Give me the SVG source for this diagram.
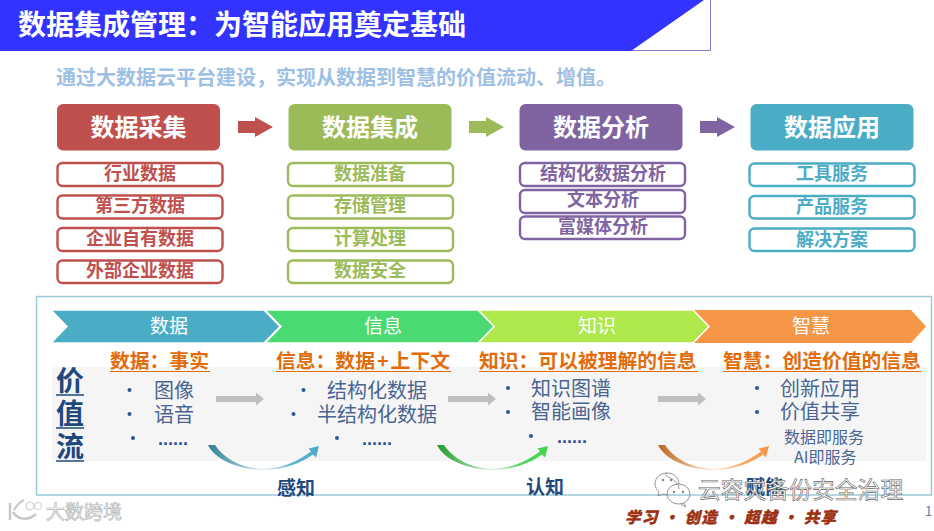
<svg xmlns="http://www.w3.org/2000/svg" width="934" height="531" viewBox="0 0 934 531">
<style>
text{font-family:"Noto Sans CJK SC","Liberation Sans",sans-serif}
.main{fill:#fff;font-weight:700;font-size:24px;text-anchor:middle}
.sub{fill:#fff;stroke-width:2.4}
.st{font-size:18px;font-weight:700;text-anchor:middle}
.hd{fill:#e36c0a;font-size:19.8px;font-weight:700}
.li{fill:#4a6591;font-size:20px}
.dd{fill:#2f5597;font-family:"Liberation Sans",sans-serif;font-size:18px;font-weight:700}
.dot{fill:#2f5597}
.chev{fill:#fff;font-size:19px;text-anchor:middle}
.ga{fill:#bfbfbf}
.v{fill:#1f497d;font-size:28px;font-weight:700;text-anchor:middle}
</style>
<defs>
<linearGradient id="g1"><stop offset="0" stop-color="#2b7f98"/><stop offset="0.5" stop-color="#cfe6ee"/><stop offset="0.75" stop-color="#5fb4cc"/><stop offset="1" stop-color="#4bacc6"/></linearGradient>
<linearGradient id="g2"><stop offset="0" stop-color="#1f9a2c"/><stop offset="0.5" stop-color="#c8f0cc"/><stop offset="0.75" stop-color="#4bd65a"/><stop offset="1" stop-color="#3fd648"/></linearGradient>
<linearGradient id="g3"><stop offset="0" stop-color="#b96a1f"/><stop offset="0.5" stop-color="#fbe0c8"/><stop offset="0.75" stop-color="#f8a968"/><stop offset="1" stop-color="#f79646"/></linearGradient>
<path id="cres" d="M208,445C215,460 240,469.800 263,469.800C285,469.800 303,462 313,454.500L316,457.500L319,446L308.500,448.500L311,451.500C298,461 282,468.800 263,469C245,469 225,460 215,445Z"/>
<path id="ar" d="M0,-3H40V-6.500L48,0L40,6.500V3H0Z"/>
</defs>

<g id="banner">
<path d="M631.500,50.500H710.500V0" fill="none" stroke="#7f7fcf" stroke-width="1"/>
<polygon points="0,0 704,0 631,51 0,51" fill="#3333ff"/>
<text x="18" y="35" fill="#fff" font-size="28" font-weight="700">数据集成管理：为智能应用奠定基础</text>
</g>
<text id="subtitle" x="56" y="85" fill="#9dc0e4" font-size="20" font-weight="700">通过大数据云平台建设，实现从数据到智慧的价值流动、增值。</text>

<g id="connectors">
<path d="M238,121H255V117L273,127L255,137V133H238Z" fill="#c0504d"/>
<path d="M469,121H486V117L504,127L486,137V133H469Z" fill="#9bbb59"/>
<path d="M700,121H717V117L735,127L717,137V133H700Z" fill="#8064a2"/>
</g>

<g id="col-collect">
<rect x="57" y="104" width="163" height="46.500" rx="6" fill="#c0504d"/>
<text x="138.500" y="135.500" class="main">数据采集</text>
<g stroke="#c0504d">
<rect class="sub" x="57.500" y="163" width="165" height="23" rx="5"/>
<rect class="sub" x="57.500" y="195.500" width="165" height="23" rx="5"/>
<rect class="sub" x="57.500" y="228" width="165" height="23" rx="5"/>
<rect class="sub" x="57.500" y="260.500" width="165" height="22.500" rx="5"/>
</g>
<g fill="#c0504d">
<text x="140" y="180" class="st">行业数据</text>
<text x="140" y="212" class="st">第三方数据</text>
<text x="140" y="245" class="st">企业自有数据</text>
<text x="140" y="277" class="st">外部企业数据</text>
</g>
</g>

<g id="col-integrate">
<rect x="288.500" y="104" width="163" height="46.500" rx="6" fill="#9bbb59"/>
<text x="370" y="135.500" class="main">数据集成</text>
<g stroke="#9bbb59">
<rect class="sub" x="288" y="163" width="165" height="23" rx="5"/>
<rect class="sub" x="288" y="195.500" width="165" height="23" rx="5"/>
<rect class="sub" x="288" y="228" width="165" height="23" rx="5"/>
<rect class="sub" x="288" y="260.500" width="165" height="22.500" rx="5"/>
</g>
<g fill="#9bbb59">
<text x="370" y="180" class="st">数据准备</text>
<text x="370" y="212" class="st">存储管理</text>
<text x="370" y="244.500" class="st">计算处理</text>
<text x="370" y="277" class="st">数据安全</text>
</g>
</g>

<g id="col-analyze">
<rect x="519.500" y="104" width="163" height="46.500" rx="6" fill="#8064a2"/>
<text x="601" y="135.500" class="main">数据分析</text>
<g stroke="#8064a2">
<rect class="sub" x="520" y="163" width="165" height="23" rx="5"/>
<rect class="sub" x="520" y="190" width="165" height="23" rx="5"/>
<rect class="sub" x="520" y="216.500" width="165" height="22.500" rx="5"/>
</g>
<g fill="#8064a2">
<text x="603" y="180" class="st">结构化数据分析</text>
<text x="603" y="206" class="st">文本分析</text>
<text x="603" y="233" class="st">富媒体分析</text>
</g>
</g>

<g id="col-apply">
<rect x="750.500" y="104" width="163" height="46.500" rx="6" fill="#4bacc6"/>
<text x="832" y="135.500" class="main">数据应用</text>
<g stroke="#4bacc6">
<rect class="sub" x="749.500" y="163.500" width="165" height="22.500" rx="5"/>
<rect class="sub" x="749.500" y="196" width="165" height="22.500" rx="5"/>
<rect class="sub" x="749.500" y="228.500" width="165" height="22.500" rx="5"/>
</g>
<g fill="#4bacc6">
<text x="832" y="180" class="st">工具服务</text>
<text x="832" y="213" class="st">产品服务</text>
<text x="832" y="245.500" class="st">解决方案</text>
</g>
</g>

<rect id="frame" x="36.500" y="296.500" width="895" height="198.500" fill="#fff" stroke="#9cc9da" stroke-width="1.500"/>
<rect id="band" x="52" y="367" width="874" height="94" fill="#f5f5f5"/>

<g id="gray-arrows">
<use href="#ar" x="216" y="399" class="ga"/>
<use href="#ar" x="448" y="399" class="ga"/>
<use href="#ar" x="658" y="399" class="ga"/>
</g>

<g id="chevrons">
<polygon points="693,310 911,310 926,326.500 911,343 693,343 709,326.500" fill="#f79646"/>
<polygon points="478,310 693,310 709,326.500 693,343 478,343 494,326.500" fill="#aee84a" stroke="#fff" stroke-width="1.500"/>
<polygon points="265,310 478,310 494,326.500 478,343 265,343 281,326.500" fill="#4bd973" stroke="#fff" stroke-width="1.500"/>
<polygon points="51,310 264,310 280,326.500 264,343 51,343 67,326.500" fill="#4bacc6" stroke="#fff" stroke-width="1.500"/>
<text x="169" y="333" class="chev">数据</text>
<text x="383" y="333" class="chev">信息</text>
<text x="597" y="333" class="chev">知识</text>
<text x="811" y="333" class="chev">智慧</text>
</g>

<g id="value-label">
<text x="70" y="391" class="v">价</text>
<text x="70" y="424" class="v">值</text>
<text x="70" y="457" class="v">流</text>
<path d="M56,395H84M56,428H84M56,461H84" stroke="#1f497d" stroke-width="1.500"/>
</g>

<g id="stage-data">
<text x="110" y="368" class="hd">数据：事实</text>
<path d="M110,371.500H210" stroke="#e36c0a" stroke-width="1.200"/>
<circle class="dot" cx="129.500" cy="390" r="2"/><circle class="dot" cx="129.500" cy="414" r="2"/><circle class="dot" cx="133" cy="438" r="2"/>
<text x="154" y="398" class="li">图像</text>
<text x="154" y="422" class="li">语音</text>
<text x="158" y="445" class="dd">......</text>
</g>

<g id="stage-info">
<text x="276" y="368" class="hd">信息：数据<tspan dx="2">+</tspan><tspan dx="2">上下文</tspan></text>
<path d="M276,371.500H451" stroke="#e36c0a" stroke-width="1.200"/>
<circle class="dot" cx="303.500" cy="390" r="2"/><circle class="dot" cx="293.500" cy="414" r="2"/><circle class="dot" cx="337" cy="438" r="2"/>
<text x="327" y="398" class="li">结构化数据</text>
<text x="317" y="422" class="li">半结构化数据</text>
<text x="362" y="445" class="dd">......</text>
</g>

<g id="stage-knowledge">
<text x="479" y="368" class="hd">知识：可以被理解的信息</text>
<path d="M479,371.500H698" stroke="#e36c0a" stroke-width="1.200"/>
<circle class="dot" cx="508" cy="388" r="2"/><circle class="dot" cx="508" cy="412" r="2"/><circle class="dot" cx="531" cy="436" r="2"/>
<text x="531" y="396" class="li">知识图谱</text>
<text x="531" y="419" class="li">智能画像</text>
<text x="557" y="443" class="dd">......</text>
</g>

<g id="stage-wisdom">
<text x="723" y="368" class="hd">智慧：创造价值的信息</text>
<path d="M723,371.500H921" stroke="#e36c0a" stroke-width="1.200"/>
<circle class="dot" cx="757" cy="388" r="2"/><circle class="dot" cx="757" cy="412" r="2"/>
<text x="780" y="396" class="li">创新应用</text>
<text x="780" y="419" class="li">价值共享</text>
<text x="784" y="443" fill="#4a6591" font-size="16">数据即服务</text>
<text x="794" y="463" fill="#4a6591" font-size="16">AI即服务</text>
</g>

<g id="curves">
<use href="#cres" fill="url(#g1)"/>
<use href="#cres" x="229" fill="url(#g2)"/>
<use href="#cres" x="450" fill="url(#g3)"/>
</g>

<g id="cycle-labels" fill="#1f497d" font-size="19" font-weight="700">
<text x="277" y="495">感知</text>
<text x="526" y="494">认知</text>
<text x="746" y="494">赋能</text>
</g>

<g id="watermark-right">
<g fill="none" stroke="#8a8a8a" stroke-width="0.900">
<path d="M667,473C660,473 655,478 655,484C655,487 657,490 659,492L658,496L663,494L668,495"/>
<path d="M679,489C679,478 660,476 667,473C674,473 679,478 679,484"/>
<ellipse cx="678.500" cy="494" rx="11.500" ry="10"/>
<path d="M684,503L686,507L681,504"/>
</g>
<g fill="#8a8a8a"><circle cx="663" cy="480" r="1.300"/><circle cx="671" cy="480" r="1.300"/><circle cx="674" cy="492" r="1.200"/><circle cx="683" cy="492" r="1.200"/></g>
<text x="698" y="498" font-size="22.800" fill="#fafafa" stroke="#666" stroke-width="0.600">云容灾备份安全治理</text>
</g>

<text id="motto" x="625" y="523" font-size="15.500" font-weight="900" font-style="italic" fill="#9c3010" stroke="#9c3010" stroke-width="0.400" letter-spacing="1.200">学习 · 创造 · 超越 · 共享</text>
<text id="page" x="925" y="516" font-family="'Liberation Sans',sans-serif" font-size="13" fill="#5b7fb0">1</text>

<g id="watermark-left" fill="#fbfbfb" stroke="#b5b5b5" stroke-width="0.700">
<path d="M10,503V520M14,510C18,503 22,501 24,500M13,512C18,520 28,521 36,514" fill="none" stroke-width="2.500" stroke="#c8c8c8"/>
<circle cx="30" cy="506" r="4" fill="none"/><circle cx="38" cy="506" r="3.500" fill="none"/>
<text x="46" y="519" font-size="19">大数跨境</text>
</g>
</svg>
